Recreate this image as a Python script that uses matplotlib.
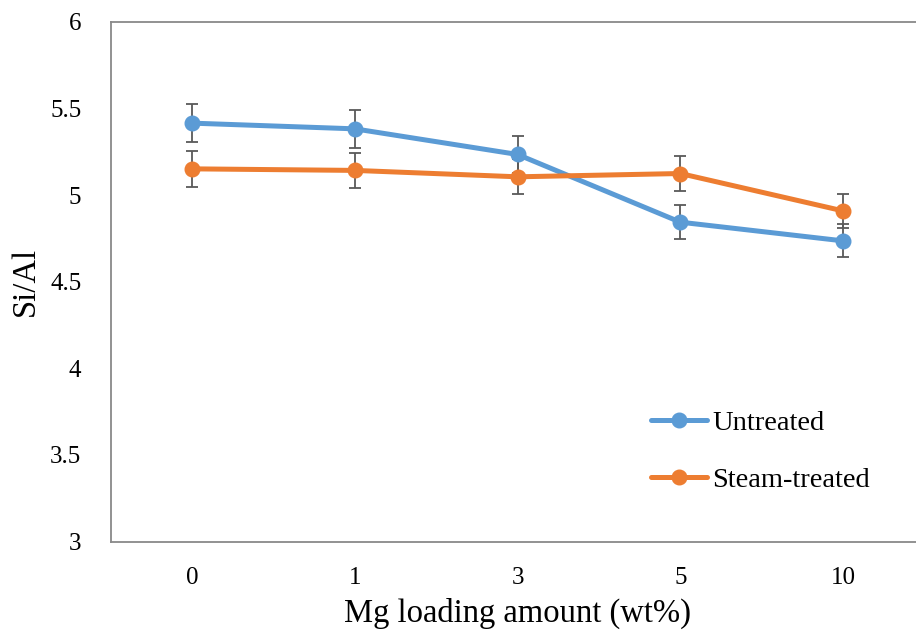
import matplotlib
matplotlib.use("Agg")
import matplotlib.pyplot as plt

plt.rcParams['font.family'] = ['Liberation Serif', 'DejaVu Serif']

categories = ["0", "1", "3", "5", "10"]
untreated = [5.416, 5.383, 5.235, 4.844, 4.736]
steam = [5.152, 5.143, 5.106, 5.125, 4.909]
untreated_err = [0.108, 0.108, 0.105, 0.097, 0.095]
steam_err = [0.103, 0.103, 0.102, 0.102, 0.098]
yticks = [3, 3.5, 4, 4.5, 5, 5.5, 6]
ytick_labels = ["3", "3.5", "4", "4.5", "5", "5.5", "6"]

W, H = 916, 637
fig = plt.figure(figsize=(W / 100, H / 100), dpi=100)
left, right, top, bottom = 110.6, 924.6, 22, 541.5
ax = fig.add_axes([left / W, 1 - bottom / H, (right - left) / W, (bottom - top) / H])

x = list(range(len(categories)))
blue = "#5B9BD5"
orange = "#ED7D31"
errc = "#595959"

for vals, err in [(untreated, untreated_err), (steam, steam_err)]:
    ax.errorbar(x, vals, yerr=err, fmt="none", ecolor=errc, elinewidth=1.3,
                capsize=4.5, capthick=1.3, zorder=2)
for vals, col, lab in [(untreated, blue, "Untreated"), (steam, orange, "Steam-treated")]:
    ax.plot(x, vals, color=col, lw=3.6, marker="o", ms=10.5, label=lab, zorder=3,
            solid_capstyle="round")

ax.set_xlim(-0.5, 4.5)
ax.set_ylim(3, 6)
ax.set_xticks(x)
ax.set_xticklabels(categories)
ax.set_yticks(yticks)
ax.set_yticklabels(ytick_labels)
ax.tick_params(axis="both", length=0, labelsize=18, colors="black")
ax.tick_params(axis="y", pad=21)
ax.tick_params(axis="x", pad=18)
for s in ["left", "bottom", "top"]:
    ax.spines[s].set_color("#898989")
    ax.spines[s].set_linewidth(1.3)
ax.spines["right"].set_visible(False)

ax.set_xlabel("Mg loading amount (wt%)", fontsize=23.5, labelpad=7)
ax.set_ylabel("Si/Al", fontsize=23.5, labelpad=7)

leg = ax.legend(loc="upper left", bbox_to_anchor=(651 / W, 1 - 410 / H),
                bbox_transform=fig.transFigure, frameon=False, fontsize=20.5,
                handlelength=1.95, handletextpad=0.2, labelspacing=1.1,
                borderpad=0, borderaxespad=0)

fig.savefig("out.png", dpi=100)
